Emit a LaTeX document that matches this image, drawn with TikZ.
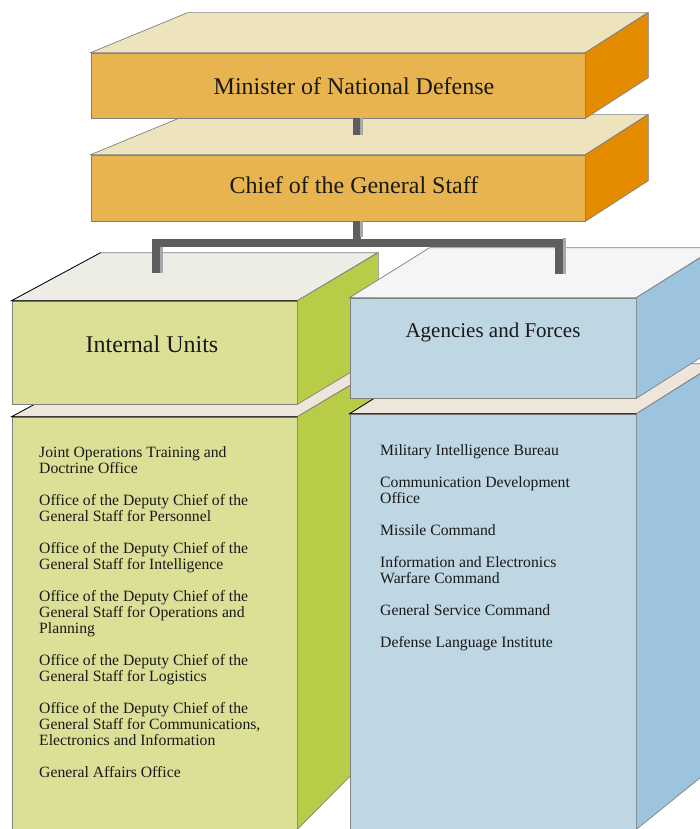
\documentclass[tikz,border=0pt]{standalone}
\usepackage{fontspec}
\setmainfont{Liberation Serif}

\definecolor{orfront}{HTML}{E8B44F}
\definecolor{ortop}{HTML}{EDE3BD}
\definecolor{orside}{HTML}{E58B00}
\definecolor{grfront}{HTML}{DCDF96}
\definecolor{grtop}{HTML}{EDECE5}
\definecolor{grside}{HTML}{B9CC48}
\definecolor{blfront}{HTML}{BFD6E3}
\definecolor{bltop}{HTML}{F3F5F7}
\definecolor{blside}{HTML}{9DC4DE}
\definecolor{strip}{HTML}{EEE6DA}
\definecolor{edgegray}{HTML}{808080}
\definecolor{bardark}{HTML}{5E5E5E}
\definecolor{barlight}{HTML}{A8A8A8}

\tikzset{
  face/.style={draw=edgegray, line width=0.7pt, inner sep=0pt},
  darkedge/.style={draw=black, line width=0.7pt},
  bar/.style={draw=bardark, line width=8pt, line join=miter},
  barshine/.style={draw=barlight, line width=3pt},
  title/.style={inner sep=0pt, text=black!90},
  listtext/.style={anchor=north west, inner sep=0pt, align=left,
    font=\fontsize{15.7}{16}\selectfont, text=black!90},
}

\begin{document}
\begin{tikzpicture}[x=1pt, y=-1pt]
  \useasboundingbox (0,0) rectangle (700,829);
  \clip (0,0) rectangle (700,829);

  % chief of the general staff
  \node[face, fill=orfront, minimum width=494pt, minimum height=66pt] (chief) at (338,188) {};
  \filldraw[face, fill=ortop] (chief.north west) -- ++(97,-40) -- ++(460,0) -- (chief.north east) -- cycle;
  \filldraw[face, fill=orside] (chief.north east) -- ++(63,-40) -- ++(0,66) -- (chief.south east) -- cycle;
  \node[title, font=\fontsize{24}{28}\selectfont] (cheftitle) at (354,185) {Chief of the General Staff};

  % minister
  \node[face, fill=orfront, minimum width=494pt, minimum height=65pt] (minister) at (338,85.5) {};
  \filldraw[face, fill=ortop] (minister.north west) -- ++(97,-40) -- ++(460,0) -- (minister.north east) -- cycle;
  \filldraw[face, fill=orside] (minister.north east) -- ++(63,-40) -- ++(0,65) -- (minister.south east) -- cycle;
  \node[title, font=\fontsize{24}{28}\selectfont] (mintitle) at (354,86) {Minister of National Defense};

  \coordinate (cheftop) at (356.5,135);
  \draw[bar] (minister.south -| cheftop) -- (cheftop);
  \draw[barshine] ([xshift=5pt]minister.south -| cheftop) -- ([xshift=5pt]cheftop);

  % internal units, body
  \node[face, fill=grfront, minimum width=285pt, minimum height=412pt] (iubody) at (154.5,623) {};
  \filldraw[face, fill=strip] (iubody.north west) -- ++(89,-48) -- ++(277,0) -- (iubody.north east) -- cycle;
  \filldraw[face, fill=grside] (iubody.north east) -- ++(81,-48) -- (378,748) -- (iubody.south east) -- cycle;
  \draw[darkedge] (iubody.north east) -- (iubody.north west) -- ++(89,-48);
  \node[listtext] (iulist) at (39,446.5) {%
    Joint Operations Training and\\ Doctrine Office\\[16pt]
    Office of the Deputy Chief of the\\ General Staff for Personnel\\[16pt]
    Office of the Deputy Chief of the\\ General Staff for Intelligence\\[16pt]
    Office of the Deputy Chief of the\\ General Staff for Operations and\\ Planning\\[16pt]
    Office of the Deputy Chief of the\\ General Staff for Logistics\\[16pt]
    Office of the Deputy Chief of the\\ General Staff for Communications,\\ Electronics and Information\\[16pt]
    General Affairs Office};

  % internal units, header
  \node[face, fill=grfront, minimum width=285pt, minimum height=103pt] (iuhead) at (154.5,352.5) {};
  \filldraw[face, fill=grtop] (iuhead.north west) -- ++(89,-48) -- ++(277,0) -- (iuhead.north east) -- cycle;
  \filldraw[face, fill=grside] (iuhead.north east) -- ++(81,-48) -- ++(0,103) -- (iuhead.south east) -- cycle;
  \draw[darkedge] (iuhead.north east) -- (iuhead.north west) -- ++(89,-48);
  \node[title, font=\fontsize{24}{28}\selectfont] (iutitle) at (152,344) {Internal Units};

  % agencies and forces, body
  \node[face, fill=blfront, minimum width=286pt, minimum height=415pt] (afbody) at (493,621.5) {};
  \filldraw[face, fill=strip] (afbody.north west) -- ++(80,-50) -- ++(286,0) -- (afbody.north east) -- cycle;
  \filldraw[face, fill=blside] (afbody.north east) -- ++(80,-50) -- (716,765) -- (afbody.south east) -- cycle;
  \draw[darkedge] (afbody.north east) -- (afbody.north west) -- ++(80,-50);
  \node[listtext] (aflist) at (380,444.5) {%
    Military Intelligence Bureau\\[16pt]
    Communication Development\\ Office\\[16pt]
    Missile Command\\[16pt]
    Information and Electronics\\ Warfare Command\\[16pt]
    General Service Command\\[16pt]
    Defense Language Institute};

  % agencies and forces, header
  \node[face, fill=blfront, minimum width=286pt, minimum height=100pt] (afhead) at (493,348) {};
  \filldraw[face, fill=bltop] (afhead.north west) -- ++(80,-50) -- ++(286,0) -- (afhead.north east) -- cycle;
  \filldraw[face, fill=blside] (afhead.north east) -- ++(80,-50) -- ++(0,100) -- (afhead.south east) -- cycle;
  \node[title, font=\fontsize{21}{25}\selectfont] (aftitle) at (493,332) {Agencies and Forces};

  % connectors
  \coordinate (iutop) at (155.5,273);
  \coordinate (aftop) at (558.5,274);
  \draw[bar] (chief.south -| cheftop) -- ++(0,21.5) -| (iutop);
  \draw[bar] (chief.south -| cheftop) -- ++(0,21.5) -| (aftop);
  \draw[barshine] ([xshift=5pt]chief.south -| cheftop) -- ++(0,16);
  \draw[barshine] ([xshift=5.5pt]iutop) -- ++(0,-26);
  \draw[barshine] ([xshift=5.5pt]aftop) -- ++(0,-36);
\end{tikzpicture}
\end{document}
